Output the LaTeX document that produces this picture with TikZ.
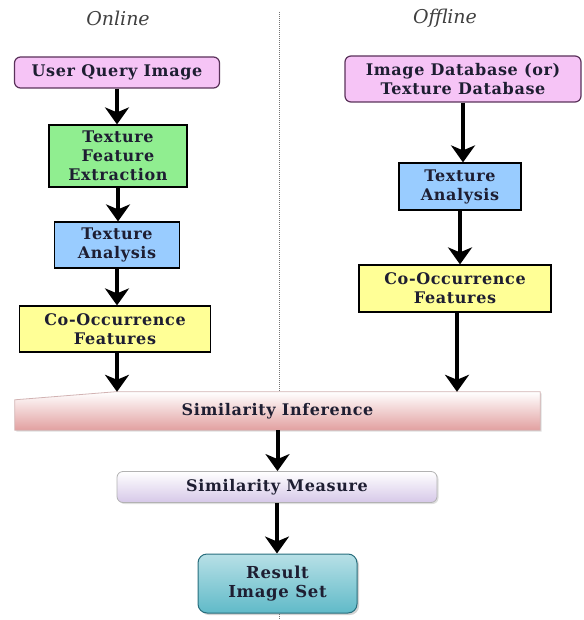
\documentclass[tikz,border=0pt]{standalone}
\usepackage{fontspec}
\setmainfont{DejaVu Serif}
\usetikzlibrary{arrows.meta,shadows,calc}
\definecolor{pinkf}{RGB}{246,196,246}
\definecolor{pinkd}{RGB}{90,50,90}
\definecolor{greenf}{RGB}{144,238,144}
\definecolor{bluef}{RGB}{153,204,255}
\definecolor{yellowf}{RGB}{255,255,150}
\definecolor{infb}{RGB}{226,160,160}
\definecolor{smb}{RGB}{214,200,232}
\definecolor{resf}{RGB}{96,186,200}
\definecolor{resd}{RGB}{40,110,125}
\definecolor{txt}{RGB}{30,30,50}
\tikzset{
  lbl/.style={font=\fontsize{16}{19}\selectfont\bfseries\addfontfeature{LetterSpace=4}, text=txt, align=center, inner sep=0pt},
  boxA/.style={lbl, draw=black, line width=1.2pt},
  rbox/.style={boxA, rounded corners=6pt, draw=pinkd, fill=pinkf},
  flow/.style={line width=4pt, -{Stealth[length=17pt,width=24pt,inset=5pt]}},
  head/.style={font=\fontsize{19}{22}\selectfont\itshape, text=black!75}
}
\begin{document}
\begin{tikzpicture}[x=1pt,y=-1pt]
\useasboundingbox (0,0) rectangle (583,620);
% headings
\node[head] (on) at (118,18) {Online};
\node[head] (off) at (445,18) {Offline};
% divider
\coordinate (d1) at (279,12);
\coordinate (d2) at (279,392);
\coordinate (d3) at (279,614);
\coordinate (d4) at (279,620);
\draw[black!55, line width=1pt, dash pattern=on 1pt off 1pt] (d1) -- (d2);
\draw[black!55, line width=1pt, dash pattern=on 1pt off 1pt] (d3) -- (d4);
% left column
\node[rbox, minimum width=205pt, minimum height=31pt] (uq) at (117,72.5) {User Query Image};
\node[boxA, fill=greenf, minimum width=138pt, minimum height=62pt] (tfe) at (118,156) {Texture\\Feature\\Extraction};
\node[boxA, fill=bluef, minimum width=125pt, minimum height=46pt] (taL) at (117,245) {Texture\\Analysis};
\node[boxA, fill=yellowf, minimum width=191pt, minimum height=46pt] (coL) at (115,329) {Co-Occurrence\\Features};
% right column
\node[rbox, minimum width=236pt, minimum height=46pt] (db) at (463,79) {Image Database (or)\\Texture Database};
\node[boxA, fill=bluef, minimum width=122pt, minimum height=47pt] (taR) at (460,186.5) {Texture\\Analysis};
\node[boxA, fill=yellowf, minimum width=192pt, minimum height=47pt] (coR) at (455,288.5) {Co-Occurrence\\Features};
% inference
\node[lbl, minimum width=525pt, minimum height=38pt] (inf) at (277.5,411) {};
\shade[top color=white, bottom color=infb, drop shadow={opacity=0.25,shadow xshift=1.5pt,shadow yshift=-1.5pt}]
  (inf.south west) -- (inf.south east) -- (inf.north east) -- ($(inf.north west)+(100,0)$) -- ($(inf.north west)+(0,8)$) -- cycle;
\draw[infb!80!black!60, line width=0.8pt]
  (inf.south west) -- (inf.south east) -- (inf.north east) -- ($(inf.north west)+(100,0)$) -- ($(inf.north west)+(0,8)$) -- cycle;
\node[lbl] (inft) at (inf.center) {Similarity Inference};
% measure
\node[lbl, rounded corners=6pt, draw=black!30, line width=0.8pt, top color=white, bottom color=smb, minimum width=320pt, minimum height=31pt, drop shadow={opacity=0.25,shadow xshift=1.5pt,shadow yshift=-1.5pt}] (sm) at (277,487) {Similarity Measure};
% result
\node[lbl, font=\fontsize{16.5}{19.5}\selectfont\bfseries\addfontfeature{LetterSpace=4}, rounded corners=9pt, draw=resd, line width=1pt, top color=resf!45, bottom color=resf, minimum width=159pt, minimum height=59pt, drop shadow={opacity=0.35,shadow xshift=2pt,shadow yshift=-2pt}] (res) at (277.5,583.5) {Result\\Image Set};
% arrow end points on the inference bar
\coordinate (cls) at ($(coL.south)+(2,0)$);
\coordinate (crs) at ($(coR.south)+(2,0)$);
\coordinate (ile) at (cls |- inf.north);
\coordinate (ire) at (crs |- inf.north);
% arrows
\draw[flow] (uq.south) -- (uq.south |- tfe.north);
\draw[flow] (tfe.south) -- (tfe.south |- taL.north);
\draw[flow] (taL.south) -- (taL.south |- coL.north);
\draw[flow] (cls) -- (ile);
\draw[flow] (db.south) -- (db.south |- taR.north);
\draw[flow] (taR.south) -- (taR.south |- coR.north);
\draw[flow] (crs) -- (ire);
\draw[flow] (inf.south) -- (inf.south |- sm.north);
\draw[flow] (sm.south) -- (sm.south |- res.north);
\end{tikzpicture}
\end{document}
